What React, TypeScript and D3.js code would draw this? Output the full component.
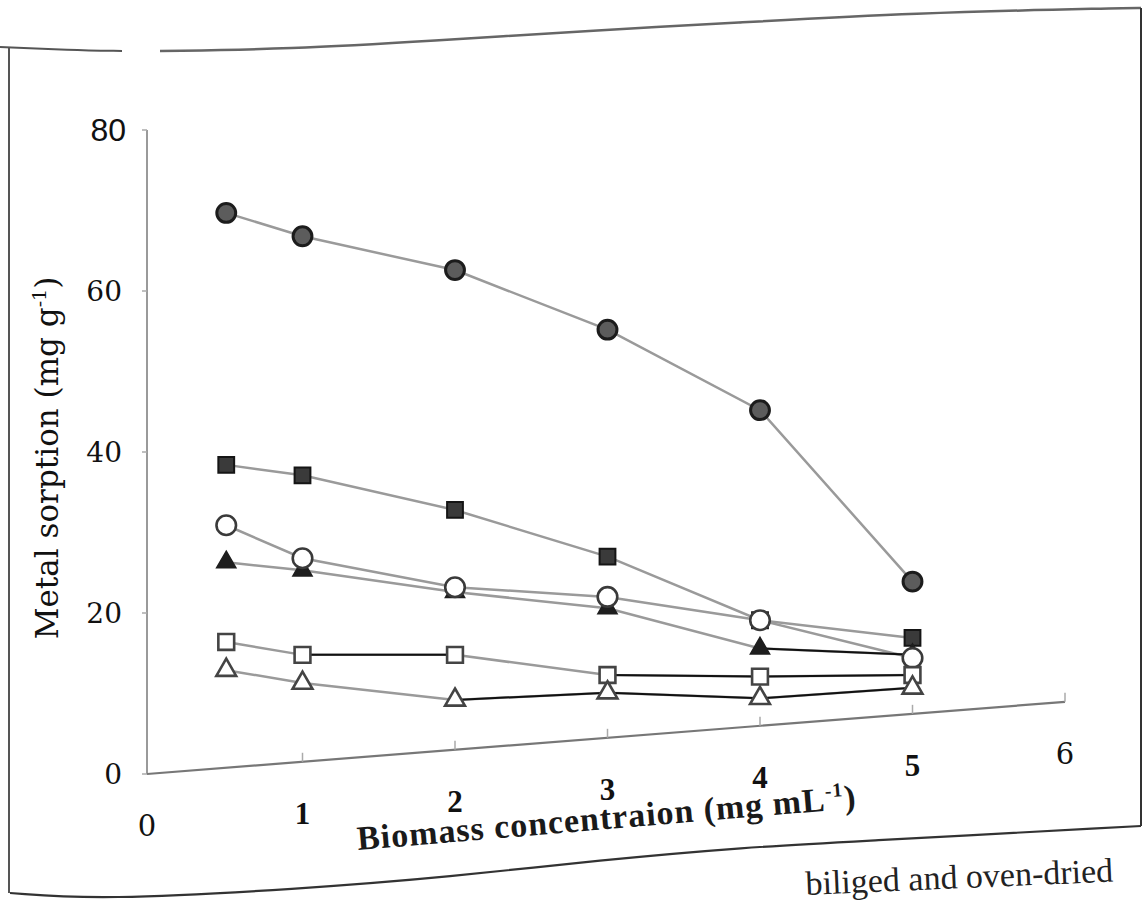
import React from "react";
import * as d3 from "d3";

// ---- data ----
const xValues = [0.5, 1, 2, 3, 4, 5];
const filledCircle = [69.7, 66.8, 62.6, 55.2, 45.2, 23.9];
const filledSquare = [38.4, 37.1, 32.8, 27.0, 19.1, 16.9];
const openCircle = [30.9, 26.8, 23.2, 22.0, 19.1, 14.4];
const filledTriangle = [26.3, 25.3, 22.6, 20.6, 15.6, 14.8];
const openSquare = [16.4, 14.8, 14.8, 12.3, 12.1, 12.3];
const openTriangle = [12.9, 11.3, 9.2, 10.1, 9.4, 10.7];
const xTicks = [0, 1, 2, 3, 4, 5, 6];
const yTicks = [0, 20, 40, 60, 80];

const W = 1145;
const H = 904;
const x = d3.scaleLinear().domain([0, 6]).range([150, 1065]);
const y = d3.scaleLinear().domain([0, 80]).range([774, 130]);
const AX0 = 147;
const tilt = -0.0786;
const axisY = (px: number) => 774 + (px - AX0) * tilt;

type S = {
  data: number[];
  symbol: d3.SymbolType;
  size: number;
  fill: string;
  stroke: string;
  sw: number;
  dark: number[];
};

const series: S[] = [
  { data: filledCircle, symbol: d3.symbolCircle, size: 280, fill: "#5c5c5c", stroke: "#1c1c1c", sw: 3, dark: [] },
  { data: filledSquare, symbol: d3.symbolSquare, size: 250, fill: "#3a3a3a", stroke: "#151515", sw: 2, dark: [] },
  { data: filledTriangle, symbol: d3.symbolTriangle, size: 160, fill: "#1e1e1e", stroke: "#1e1e1e", sw: 1.5, dark: [4] },
  { data: openCircle, symbol: d3.symbolCircle, size: 300, fill: "#ffffff", stroke: "#3a3a3a", sw: 2.6, dark: [] },
  { data: openSquare, symbol: d3.symbolSquare, size: 250, fill: "#ffffff", stroke: "#444", sw: 2.6, dark: [1, 3, 4] },
  { data: openTriangle, symbol: d3.symbolTriangle, size: 170, fill: "#ffffff", stroke: "#444", sw: 2.6, dark: [2, 3, 4] },
];

const frameTop: [number, number][] = [[0, 47], [70, 50], [122, 51]];
const frameTop2: [number, number][] = [[160, 51], [290, 49], [430, 41], [600, 30], [730, 23], [912, 13], [1124, 8], [1141, 8]];
const frameBottom: [number, number][] = [[10, 893], [100, 900], [300, 889], [450, 877], [600, 860], [750, 847], [845, 842], [1141, 826]];

export default function App() {
  const line = d3
    .line<number>()
    .x((_, i) => x(xValues[i]))
    .y((d) => y(d));
  const curve = d3.line().curve(d3.curveBasis);
  const sym = (s: S) => d3.symbol().type(s.symbol).size(s.size)() as string;
  const serif = "'DejaVu Serif', 'Liberation Serif', serif";
  const bookFont = "'Liberation Serif', 'DejaVu Serif', serif";
  const narrow = "'Liberation Sans Narrow', 'Liberation Sans', sans-serif";

  return (
    <svg width={W} height={H} style={{ position: "absolute", left: 0, top: 0, background: "#fff" }}>
      <rect width={W} height={H} fill="#fff" />
      {/* page frame */}
      <path d={curve(frameTop) || ""} fill="none" stroke="#555" strokeWidth={2} />
      <path d={curve(frameTop2) || ""} fill="none" stroke="#666" strokeWidth={2.5} />
      <line x1={9} y1={47} x2={9} y2={893} stroke="#555" strokeWidth={2} />
      <line x1={1141} y1={8} x2={1141} y2={826} stroke="#333" strokeWidth={2} />
      <path d={curve(frameBottom) || ""} fill="none" stroke="#333" strokeWidth={2.2} />

      {/* y axis */}
      <line x1={AX0} y1={y(0)} x2={AX0} y2={y(80)} stroke="#9a9a9a" strokeWidth={2} />
      {yTicks.map((t) => (
        <g key={t}>
          <line x1={AX0 - 5} x2={AX0} y1={y(t)} y2={y(t)} stroke="#aaa" strokeWidth={1.5} />
          <text
            x={t === 80 ? 126 : 122}
            y={y(t)}
            textAnchor="end"
            dominantBaseline="central"
            fontFamily={t === 80 ? narrow : serif}
            fontSize={t === 80 ? 32 : 28}
            fill="#111"
          >
            {t}
          </text>
        </g>
      ))}

      {/* x axis (tilted, as in the scan) */}
      <line x1={AX0} y1={axisY(AX0)} x2={x(6)} y2={axisY(x(6))} stroke="#777" strokeWidth={2.2} />
      {xTicks.map((t) => (
        <g key={t}>
          {t > 0 && (
            <line x1={x(t)} x2={x(t)} y1={axisY(x(t))} y2={axisY(x(t)) - 9} stroke="#aaa" strokeWidth={1.5} />
          )}
          <text
            x={t === 0 ? AX0 : x(t)}
            y={axisY(t === 0 ? AX0 : x(t)) + 52}
            textAnchor="middle"
            dominantBaseline="central"
            fontFamily={t === 0 || t === 6 ? serif : bookFont}
            fontWeight={t === 0 || t === 6 ? "normal" : "bold"}
            fontSize={t === 0 || t === 6 ? 29 : 31}
            fill="#111"
          >
            {t}
          </text>
        </g>
      ))}

      {/* axis titles */}
      <text
        transform="translate(58,458) rotate(-90)"
        textAnchor="middle"
        fontFamily={serif}
        fontSize={31}
        fill="#111"
      >
        Metal sorption (mg g
        <tspan dy={-12} fontSize={19}>-1</tspan>
        <tspan dy={12}>)</tspan>
      </text>
      <text
        transform="translate(358,850) rotate(-4.8)"
        fontFamily={bookFont}
        fontWeight="bold"
        fontSize={34}
        letterSpacing={1}
        fill="#1a1a1a"
      >
        Biomass concentraion (mg mL
        <tspan dy={-13} fontSize={20}>-1</tspan>
        <tspan dy={13}>)</tspan>
      </text>

      {/* caption fragment at the bottom edge */}
      <text transform="translate(806,895) rotate(-2.5)" fontFamily={bookFont} fontSize={34} fill="#222">
        biliged and oven-dried
      </text>

      {/* series lines */}
      {series.map((s, k) => (
        <path key={"l" + k} d={line(s.data) || ""} fill="none" stroke="#9a9a9a" strokeWidth={2.5} />
      ))}
      {series.map((s, k) =>
        s.dark.map((i) => (
          <line
            key={"d" + k + "-" + i}
            x1={x(xValues[i])}
            y1={y(s.data[i])}
            x2={x(xValues[i + 1])}
            y2={y(s.data[i + 1])}
            stroke="#111"
            strokeWidth={2}
          />
        ))
      )}

      {/* markers */}
      {series.map((s, k) =>
        s.data.map((d, i) => (
          <path
            key={"m" + k + "-" + i}
            d={sym(s)}
            transform={`translate(${x(xValues[i])},${y(d)})`}
            fill={s.fill}
            stroke={s.stroke}
            strokeWidth={s.sw}
          />
        ))
      )}
    </svg>
  );
}
